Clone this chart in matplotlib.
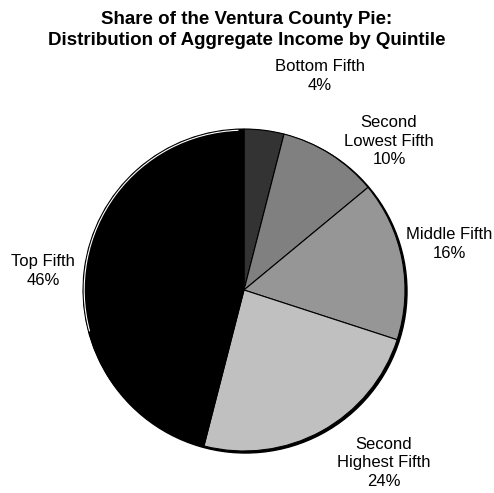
import matplotlib
matplotlib.use('Agg')
import matplotlib.pyplot as plt
from matplotlib.patches import Circle, Arc

plt.rcParams['font.family'] = ['Liberation Sans', 'DejaVu Sans']

# Share of aggregate income by quintile (percent)
groups = ['Bottom Fifth', 'Second\nLowest Fifth', 'Middle Fifth',
          'Second\nHighest Fifth', 'Top Fifth']
shares = [4, 10, 16, 24, 46]
greys = ['#333333', '#808080', '#969696', '#c0c0c0', '#000000']

# label block centres, in pixels from the top-left of the picture
label_pos = [(320, 76), (389, 141), (449, 244), (384, 463), (43, 271)]

W, H = 494, 493
cx, cy, R = 244, H - 290, 161

fig = plt.figure(figsize=(W / 100, H / 100), dpi=100)
ax = fig.add_axes([0, 0, 1, 1])

# drop shadow behind the pie
ax.add_patch(Circle((cx + 1.5, cy - 1.5), R + 0.5, color='black', zorder=1))

wedges, _ = ax.pie(shares, colors=greys, startangle=90, counterclock=False,
                   radius=R, center=(cx, cy), frame=True,
                   wedgeprops=dict(edgecolor='black', linewidth=0.8))
for w in wedges:
    w.set_zorder(2)

# thin highlight along the rim of the black slice
ax.add_patch(Arc((cx, cy), 2 * R - 2.4, 2 * R - 2.4, theta1=92, theta2=195,
                 color='white', linewidth=0.8, zorder=3))

ax.set_xlim(0, W)
ax.set_ylim(0, H)
ax.set_aspect('equal')
ax.axis('off')

for g, s, (x, y) in zip(groups, shares, label_pos):
    ax.text(x, H - y, f'{g}\n{s}%', ha='center', va='center',
            multialignment='center', fontsize=12, linespacing=1.3)

fig.text(0.5, 1 - 30 / H,
         'Share of the Ventura County Pie:\n'
         'Distribution of Aggregate Income by Quintile',
         ha='center', va='center', fontsize=13.5, fontweight='bold',
         linespacing=1.3)

fig.savefig('out.png', dpi=100)
